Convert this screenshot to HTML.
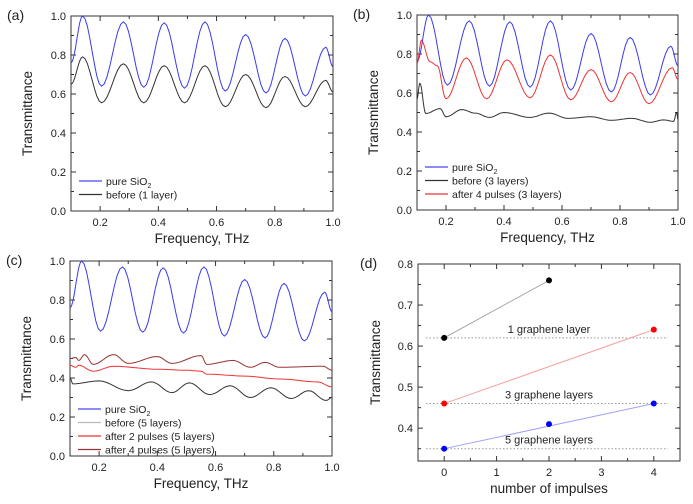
<!DOCTYPE html>
<html><head><meta charset="utf-8"><style>
body{margin:0;background:#fff;}
svg{display:block;font-family:"Liberation Sans",Arial,sans-serif;}
</style></head><body>
<svg id="s" width="693" height="504" xmlns="http://www.w3.org/2000/svg"></svg>
<script>
const s=document.getElementById('s');let h='';
function cosi(pts,x0,x1,y0,y1,vmin,vmax,ymin,ymax){let d='';
for(let i=0;i<pts.length-1;i++){const [a,va]=pts[i],[b,vb]=pts[i+1];
for(let k=0;k<=8;k++){const t=k/8,x=a+(b-a)*t,v=va+(vb-va)*(1-Math.cos(Math.PI*t))/2;
const px=x0+(x-vmin)/(vmax-vmin)*(x1-x0),py=y1-(v-ymin)/(ymax-ymin)*(y1-y0);
d+=(d?'L':'M')+px.toFixed(1)+','+py.toFixed(1);}}return d;}
const blue=[[0.1,0.76],[0.14,1.0],[0.205,0.64],[0.28,0.97],[0.35,0.635],[0.42,0.965],[0.49,0.63],[0.56,0.97],[0.63,0.615],[0.70,0.905],[0.77,0.605],[0.835,0.885],[0.905,0.59],[0.975,0.84],[1.0,0.74]];
const blackA=[[0.1,0.65],[0.14,0.79],[0.205,0.555],[0.28,0.755],[0.35,0.555],[0.42,0.745],[0.49,0.555],[0.56,0.745],[0.63,0.535],[0.70,0.70],[0.77,0.53],[0.835,0.69],[0.905,0.535],[0.975,0.67],[1.0,0.61]];
const redB=[[0.1,0.75],[0.115,0.87],[0.145,0.76],[0.17,0.74],[0.2,0.57],[0.27,0.78],[0.34,0.57],[0.41,0.77],[0.49,0.575],[0.56,0.795],[0.63,0.565],[0.70,0.72],[0.77,0.555],[0.835,0.705],[0.9,0.545],[0.98,0.73],[1.0,0.67]];
const blackB=[[0.1,0.57],[0.11,0.65],[0.13,0.495],[0.18,0.52],[0.2,0.478],[0.255,0.515],[0.3,0.497],[0.35,0.475],[0.4,0.5],[0.49,0.475],[0.555,0.497],[0.62,0.47],[0.7,0.478],[0.77,0.46],[0.84,0.47],[0.905,0.45],[0.95,0.462],[0.985,0.455],[0.995,0.5],[1.0,0.465]];
const drC=[[0.1,0.50],[0.12,0.505],[0.13,0.49],[0.15,0.52],[0.18,0.47],[0.25,0.52],[0.3,0.475],[0.4,0.51],[0.45,0.475],[0.55,0.515],[0.57,0.47],[0.66,0.49],[0.72,0.455],[0.77,0.48],[0.82,0.455],[0.97,0.46],[1.0,0.44]];
const rC=[[0.1,0.465],[0.12,0.455],[0.13,0.465],[0.18,0.435],[0.25,0.46],[0.4,0.445],[0.5,0.44],[0.55,0.435],[0.57,0.42],[0.7,0.41],[0.82,0.395],[0.95,0.38],[1.0,0.355]];
const kC=[[0.1,0.40],[0.11,0.37],[0.2,0.385],[0.3,0.335],[0.38,0.38],[0.45,0.325],[0.51,0.375],[0.58,0.315],[0.65,0.36],[0.72,0.30],[0.79,0.35],[0.86,0.295],[0.92,0.335],[0.98,0.285],[1.0,0.30]];
function frame(x0,x1,y0,y1,xv,yv,xmin,xmax,ymin,ymax,xminor,yminor,xfmt,yfmt){
h+=`<rect x="${x0}" y="${y0}" width="${x1-x0}" height="${y1-y0}" fill="none" stroke="#333" stroke-width="1"/>`;
const X=v=>x0+(v-xmin)/(xmax-xmin)*(x1-x0),Y=v=>y1-(v-ymin)/(ymax-ymin)*(y1-y0);
xminor.forEach(v=>{const p=X(v);h+=`<line x1="${p}" y1="${y1}" x2="${p}" y2="${y1-3}" stroke="#333"/><line x1="${p}" y1="${y0}" x2="${p}" y2="${y0+3}" stroke="#333"/>`;});
yminor.forEach(v=>{const p=Y(v);h+=`<line x1="${x0}" y1="${p}" x2="${x0+3}" y2="${p}" stroke="#333"/><line x1="${x1}" y1="${p}" x2="${x1-3}" y2="${p}" stroke="#333"/>`;});
xv.forEach(v=>{const p=X(v);h+=`<line x1="${p}" y1="${y1}" x2="${p}" y2="${y1-5}" stroke="#333"/><line x1="${p}" y1="${y0}" x2="${p}" y2="${y0+5}" stroke="#333"/><text x="${p}" y="${y1+15}" font-size="11" text-anchor="middle" fill="#222">${xfmt(v)}</text>`;});
yv.forEach(v=>{const p=Y(v);h+=`<line x1="${x0}" y1="${p}" x2="${x0+5}" y2="${p}" stroke="#333"/><line x1="${x1}" y1="${p}" x2="${x1-5}" y2="${p}" stroke="#333"/><text x="${x0-5}" y="${p+4}" font-size="11" text-anchor="end" fill="#222">${yfmt(v)}</text>`;});}
const f1=v=>v.toFixed(1);
function freqPanel(x0,x1,y0,y1,lab,series,leg,ly){
frame(x0,x1,y0,y1,[0.2,0.4,0.6,0.8,1.0],[0,0.2,0.4,0.6,0.8,1.0],0.1,1.0,0,1,[0.1,0.3,0.5,0.7,0.9],[0.1,0.3,0.5,0.7,0.9],f1,f1);
h+=`<svg x="${x0}" y="${y0}" width="${x1-x0}" height="${y1-y0}" overflow="hidden"><g transform="translate(${-x0},${-y0})">`;
series.forEach(([p,c])=>h+=`<path d="${cosi(p,x0,x1,y0,y1,0.1,1,0,1)}" fill="none" stroke="${c}" stroke-width="1"/>`);
h+=`</g></svg>`;
leg.forEach(([t,c],i)=>{const y=ly+i*13.5;h+=`<line x1="${x0+8}" y1="${y}" x2="${x0+31}" y2="${y}" stroke="${c}" stroke-width="1.2"/><text x="${x0+35}" y="${y+4}" font-size="10.5" fill="#222">${t}</text>`;});
h+=`<text x="${(x0+x1)/2}" y="${y1+32}" font-size="13.5" text-anchor="middle" fill="#222">Frequency, THz</text>`;
h+=`<text transform="translate(${x0-39},${(y0+y1)/2}) rotate(-90)" font-size="13.5" text-anchor="middle" fill="#222">Transmittance</text>`;
h+=`<text x="${x0-64}" y="${y0+4}" font-size="14" fill="#222">${lab}</text>`;}
const sio='pure SiO<tspan font-size="7" dy="3">2</tspan>';
freqPanel(71,333,16,211,'(a)',[[blue,'#3a3aee'],[blackA,'#333']],[[sio,'#4848ee'],['before (1 layer)','#333']],181);
freqPanel(417,678,15,210,'(b)',[[blue,'#3a3aee'],[redB,'#ee3333'],[blackB,'#333']],[[sio,'#4848ee'],['before (3 layers)','#333'],['after 4 pulses (3 layers)','#ee3333']],167);
freqPanel(70,332,261,456,'(c)',[[blue,'#3a3aee'],[drC,'#993333'],[rC,'#ee3333'],[kC,'#333']],[[sio,'#4848ee'],['before (5 layers)','#bbb'],['after 2 pulses (5 layers)','#ee3333'],['after 4 pulses (5 layers)','#993333']],409);
const dx0=418,dx1=680,dy0=264,dy1=461;
frame(dx0,dx1,dy0,dy1,[0,1,2,3,4],[0.4,0.5,0.6,0.7,0.8],-0.5,4.5,0.32,0.8,[-0.5,0.5,1.5,2.5,3.5],[0.35,0.45,0.55,0.65,0.75],v=>v,f1);
const X=v=>dx0+(v+0.5)/5*(dx1-dx0),Y=v=>dy1-(v-0.32)/0.48*(dy1-dy0);
[[0.62,'1 graphene layer'],[0.46,'3 graphene layers'],[0.35,'5 graphene layers']].forEach(([v,t])=>{h+=`<line x1="${dx0+8}" y1="${Y(v)}" x2="${dx1-12}" y2="${Y(v)}" stroke="#999" stroke-dasharray="1.5,2"/><text x="${X(2)}" y="${Y(v)-5}" font-size="11" text-anchor="middle" fill="#222">${t}</text>`;});
[[[0,0.62],[2,0.76],'#aaa'],[[0,0.46],[4,0.64],'#f9a0a0'],[[0,0.35],[4,0.46],'#a0a0f8']].forEach(([a,b,l])=>{h+=`<line x1="${X(a[0])}" y1="${Y(a[1])}" x2="${X(b[0])}" y2="${Y(b[1])}" stroke="${l}"/>`;});
[[0,0.62,'#000'],[2,0.76,'#000'],[0,0.46,'#f00'],[4,0.64,'#f00'],[0,0.35,'#00f'],[2,0.41,'#00f'],[4,0.46,'#00f']].forEach(([a,b,c])=>h+=`<circle cx="${X(a)}" cy="${Y(b)}" r="3" fill="${c}"/>`);
h+=`<text x="${(dx0+dx1)/2}" y="493" font-size="13.5" text-anchor="middle" fill="#222">number of impulses</text>`;
h+=`<text transform="translate(380,${(dy0+dy1)/2}) rotate(-90)" font-size="13.5" text-anchor="middle" fill="#222">Transmittance</text>`;
h+=`<text x="360" y="268" font-size="14" fill="#222">(d)</text>`;
s.innerHTML=h;
</script>
</body></html>
